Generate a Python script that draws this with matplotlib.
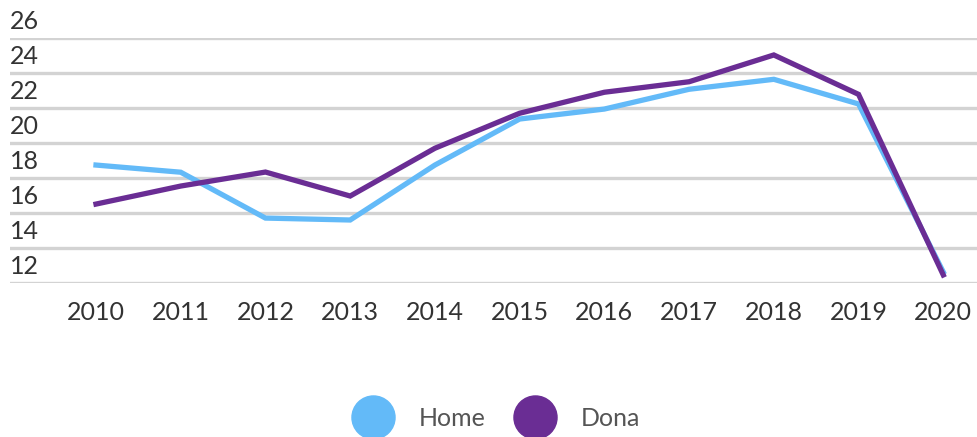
import matplotlib
matplotlib.use('Agg')
import matplotlib.pyplot as plt
import matplotlib.transforms as mtransforms
from matplotlib.lines import Line2D

plt.rcParams['font.family'] = ['Lato', 'DejaVu Sans']

# --- data ---
years = [2010, 2011, 2012, 2013, 2014, 2015, 2016, 2017, 2018, 2019, 2020]
home = [18.74, 18.33, 15.71, 15.6, 18.74, 21.37, 21.94, 23.07, 23.64, 22.23, 12.63]
dona = [16.51, 17.54, 18.34, 16.97, 19.70, 21.70, 22.90, 23.50, 25.03, 22.78, 12.46]
y_ticks = [12, 14, 16, 18, 20, 22, 24, 26]
series_names = ['Home', 'Dona']

home_color = '#63baf8'
dona_color = '#6a2d94'
grid_color = '#d3d3d3'
text_color = '#333333'

fig = plt.figure(figsize=(9.78, 4.37), dpi=100)
ax = fig.add_axes([10 / 978, 1 - 283 / 437, 1 - 10 / 978, (283 - 38) / 437])

ax.plot(years, home, color=home_color, linewidth=3.8, solid_joinstyle='miter', zorder=3)
ax.plot(years, dona, color=dona_color, linewidth=3.8, solid_joinstyle='miter', zorder=4)

ax.set_ylim(12, 26)
ax.set_xlim(2008.985, 2020.41)

# gridlines
for v in y_ticks:
    ax.axhline(v, color=grid_color, linewidth=2.4, zorder=1)

# y labels sit above their gridline
offset = mtransforms.ScaledTranslation(0, 6.5 / 72, fig.dpi_scale_trans)
trans = mtransforms.blended_transform_factory(ax.transAxes, ax.transData) + offset
for v in y_ticks:
    ax.text(0.0, v, str(v), transform=trans, ha='left', va='baseline',
            fontsize=18, color=text_color)

ax.set_yticks([])
ax.set_xticks(years)
ax.set_xticklabels([str(y) for y in years], fontsize=18, color=text_color)
ax.tick_params(axis='x', length=0, pad=13)
for s in ax.spines.values():
    s.set_visible(False)

handles = [
    Line2D([], [], linestyle='none', marker='o', markersize=31, color=home_color),
    Line2D([], [], linestyle='none', marker='o', markersize=31, color=dona_color),
]
leg = fig.legend(handles, series_names, loc='center', bbox_to_anchor=(0.507, 0.043),
                 ncol=2, frameon=False, fontsize=18, handlelength=1.7,
                 handletextpad=1.0, columnspacing=1.1)
for t in leg.get_texts():
    t.set_color('#555555')

fig.savefig('out.png', dpi=100)
